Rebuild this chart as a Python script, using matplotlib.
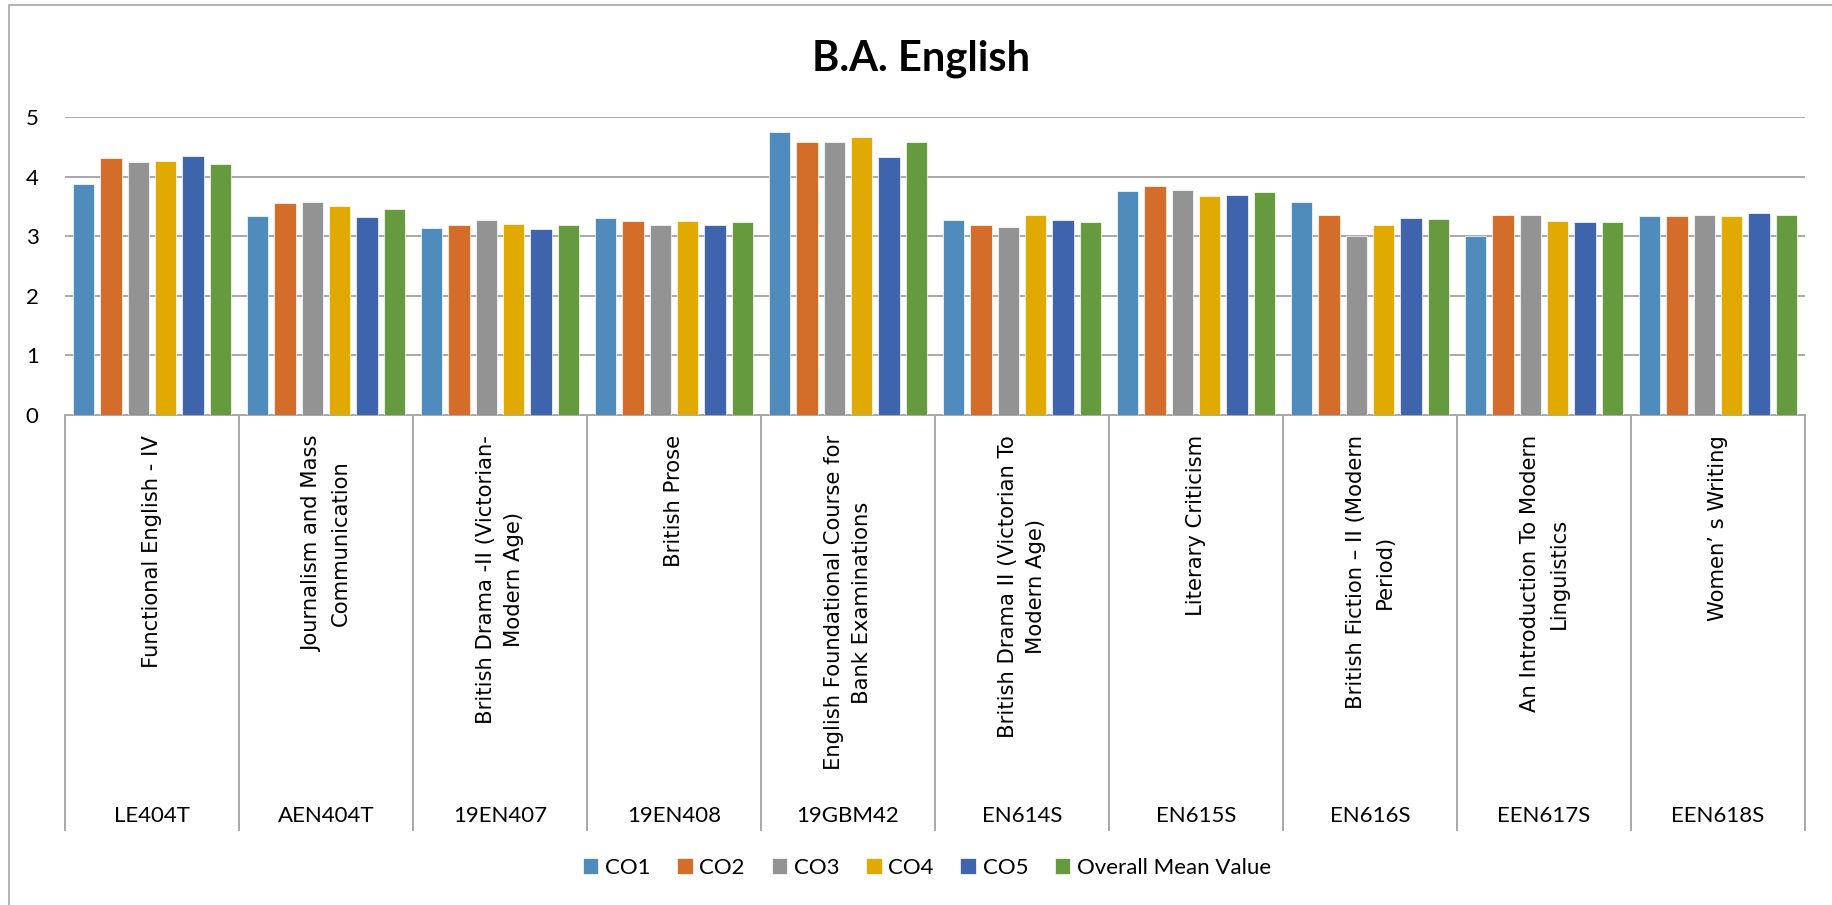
import numpy as np
import matplotlib.pyplot as plt
from matplotlib.patches import Rectangle
from matplotlib.transforms import blended_transform_factory

codes = ["LE404T", "AEN404T", "19EN407", "19EN408", "19GBM42",
         "EN614S", "EN615S", "EN616S", "EEN617S", "EEN618S"]
courses = [
    "Functional English - IV",
    "Journalism and Mass\nCommunication",
    "British Drama -II (Victorian-\nModern Age)",
    "British Prose",
    "English Foundational Course for\nBank Examinations",
    "British Drama II (Victorian To\nModern Age)",
    "Literary Criticism",
    "British Fiction \u2013 II (Modern\nPeriod)",
    "An Introduction To Modern\nLinguistics",
    "Women\u2019 s Writing",
]
series_names = ["CO1", "CO2", "CO3", "CO4", "CO5", "Overall Mean Value"]
co1 = [3.88, 3.34, 3.14, 3.30, 4.75, 3.28, 3.76, 3.57, 3.01, 3.34]
co2 = [4.32, 3.56, 3.19, 3.25, 4.58, 3.18, 3.84, 3.35, 3.36, 3.34]
co3 = [4.24, 3.57, 3.27, 3.19, 4.58, 3.15, 3.77, 3.01, 3.35, 3.36]
co4 = [4.26, 3.50, 3.20, 3.26, 4.66, 3.35, 3.67, 3.19, 3.25, 3.34]
co5 = [4.35, 3.32, 3.12, 3.19, 4.33, 3.27, 3.69, 3.30, 3.24, 3.39]
overall_mean = [4.21, 3.46, 3.18, 3.24, 4.58, 3.24, 3.74, 3.29, 3.24, 3.35]
colors = ["#508BBE", "#D46D2A", "#939393", "#E0AA00", "#3D64AC", "#659A3E"]

W, H = 1832, 905
fig = plt.figure(figsize=(W / 100, H / 100), dpi=100)

# plot area in pixel terms: x 65..1805, y 117..415
ax = fig.add_axes([65 / W, 1 - 415 / H, 1740 / W, 298 / H])
x = np.arange(len(codes))
pitch, width = 0.157, 0.124
for i, (name, vals, c) in enumerate(zip(series_names, [co1, co2, co3, co4, co5, overall_mean], colors)):
    ax.bar(x + (i - 2.5) * pitch, vals, width, color=c, label=name,
           edgecolor="white", linewidth=0.5, zorder=3)

ax.set_xlim(-0.5, len(codes) - 0.5)
ax.set_ylim(0, 5)
ax.set_yticks(range(6))
ax.set_xticks([])
ax.yaxis.grid(True, color="#a8a8a8", linewidth=1.4, zorder=0)
for s in ["top", "right", "left"]:
    ax.spines[s].set_visible(False)
ax.spines["bottom"].set_color("#a8a8a8")
ax.spines["bottom"].set_linewidth(1.4)
ax.tick_params(axis="y", length=0, pad=19, labelsize=16)
for lab in ax.get_yticklabels():
    lab.set_family("Lato")

# two-level category axis below the bars
trans = blended_transform_factory(ax.transData, ax.transAxes)
px = 1 / 298.0
for b in np.arange(len(codes) + 1) - 0.5:
    ax.plot([b, b], [0, -(830 - 415) * px], transform=trans, color="#a8a8a8",
            linewidth=1.4, clip_on=False)
for xi, name, code in zip(x, courses, codes):
    ax.text(xi, -(435 - 415) * px, name, rotation=90, ha="center", va="top",
            multialignment="center", linespacing=1.55, fontsize=15.2,
            family="DejaVu Sans", transform=trans)
    ax.text(xi, -(822 - 415) * px, code, ha="center", va="baseline",
            fontsize=16, family="Lato", transform=trans)

fig.text(0.503, 1 - 70 / H, "B.A. English", ha="center", va="baseline",
         fontsize=30, fontweight="bold", family="Lato")

fig.legend(loc="center", bbox_to_anchor=(927 / W, 1 - 868 / H), ncol=6,
           frameon=False, handlelength=0.7, handleheight=0.7,
           handletextpad=0.3, columnspacing=1.2, prop={"family": "Lato", "size": 16})

# chart border
fig.patches.append(Rectangle((9 / W, -0.1), 1.2, 1.1 - 5.5 / H, fill=False,
                             edgecolor="#a6a6a6", linewidth=1.2,
                             transform=fig.transFigure))

fig.savefig("out.png", dpi=100, facecolor="white")
